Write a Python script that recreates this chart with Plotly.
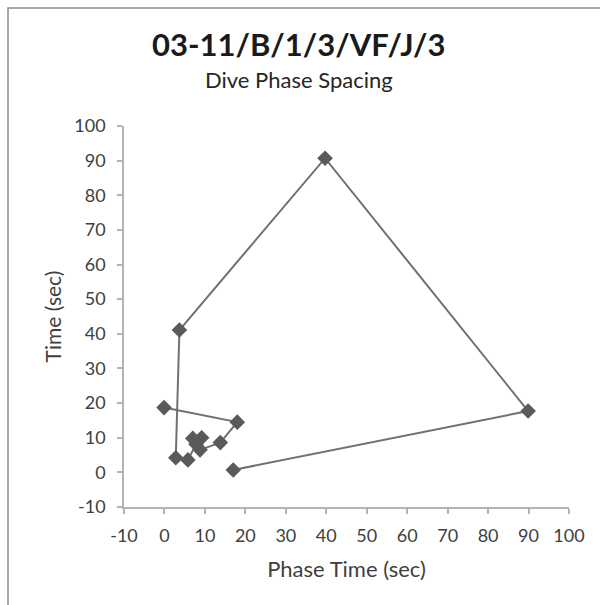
import plotly.graph_objects as go

# Dive phase sequence: phase time vs elapsed time (seconds)
phase_time = [17.0, 89.9, 39.7, 3.7, 2.8, 5.8, 7.8, 7.0, 9.2, 8.8, 13.8, 18.0, -0.1]
time_sec = [0.7, 17.7, 90.7, 41.1, 4.2, 3.6, 8.1, 9.8, 10.0, 6.5, 8.6, 14.5, 18.7]

tick_vals = list(range(-10, 101, 10))
tick_text = [str(v) for v in tick_vals]

title_text = "03-11/B/1/3/VF/J/3"
subtitle_text = "Dive Phase Spacing"
x_title = "Phase Time (sec)"
y_title = "Time (sec)"

FONT = "Lato, 'Open Sans', sans-serif"
AXIS_COLOR = "#b3b3b3"
TEXT_COLOR = "#404040"
W, H = 600, 605
ML, MR, MT, MB = 124, 31, 126, 98
pw, ph = W - ML - MR, H - MT - MB


def px_to_paper_x(px):
    return (px - ML) / pw


def px_to_paper_y(py):
    return (H - MB - py) / ph


fig = go.Figure()
fig.add_trace(go.Scatter(
    x=phase_time,
    y=time_sec,
    mode="lines+markers",
    line=dict(color="#707070", width=2),
    marker=dict(symbol="diamond", size=12, color="#5a5a5a"),
    showlegend=False,
    cliponaxis=False,
))

axis_common = dict(
    showgrid=False,
    zeroline=False,
    showline=True,
    linecolor=AXIS_COLOR,
    linewidth=1.5,
    ticks="outside",
    ticklen=5,
    tickcolor=AXIS_COLOR,
    tickwidth=1.5,
    tickvals=tick_vals,
    ticktext=tick_text,
    tickfont=dict(family=FONT, size=18, color=TEXT_COLOR),
    range=[-10, 100],
    fixedrange=True,
)

fig.update_xaxes(**axis_common, ticklabelstandoff=7,
                 title=dict(text=x_title, font=dict(family=FONT, size=22, color=TEXT_COLOR), standoff=16))
fig.update_yaxes(**axis_common, ticklabelstandoff=8,
                 title=dict(text=y_title, font=dict(family=FONT, size=21, color=TEXT_COLOR), standoff=7))

fig.update_layout(
    width=W,
    height=H,
    margin=dict(l=ML, r=MR, t=MT, b=MB),
    paper_bgcolor="white",
    plot_bgcolor="white",
    shapes=[dict(
        type="rect", xref="paper", yref="paper",
        x0=px_to_paper_x(8), x1=px_to_paper_x(620),
        y0=px_to_paper_y(620), y1=px_to_paper_y(8),
        line=dict(color="#8c8c8c", width=1.5),
        fillcolor="rgba(0,0,0,0)", layer="below",
    )],
    annotations=[
        dict(text="<b>" + title_text + "</b>", xref="paper", yref="paper",
             x=px_to_paper_x(299), y=px_to_paper_y(44), showarrow=False,
             xanchor="center", yanchor="middle",
             font=dict(family=FONT, size=31, color="#1a1a1a")),
        dict(text=subtitle_text, xref="paper", yref="paper",
             x=px_to_paper_x(299), y=px_to_paper_y(79), showarrow=False,
             xanchor="center", yanchor="middle",
             font=dict(family=FONT, size=22, color="#262626")),
    ],
)

fig.write_html("out.html")
